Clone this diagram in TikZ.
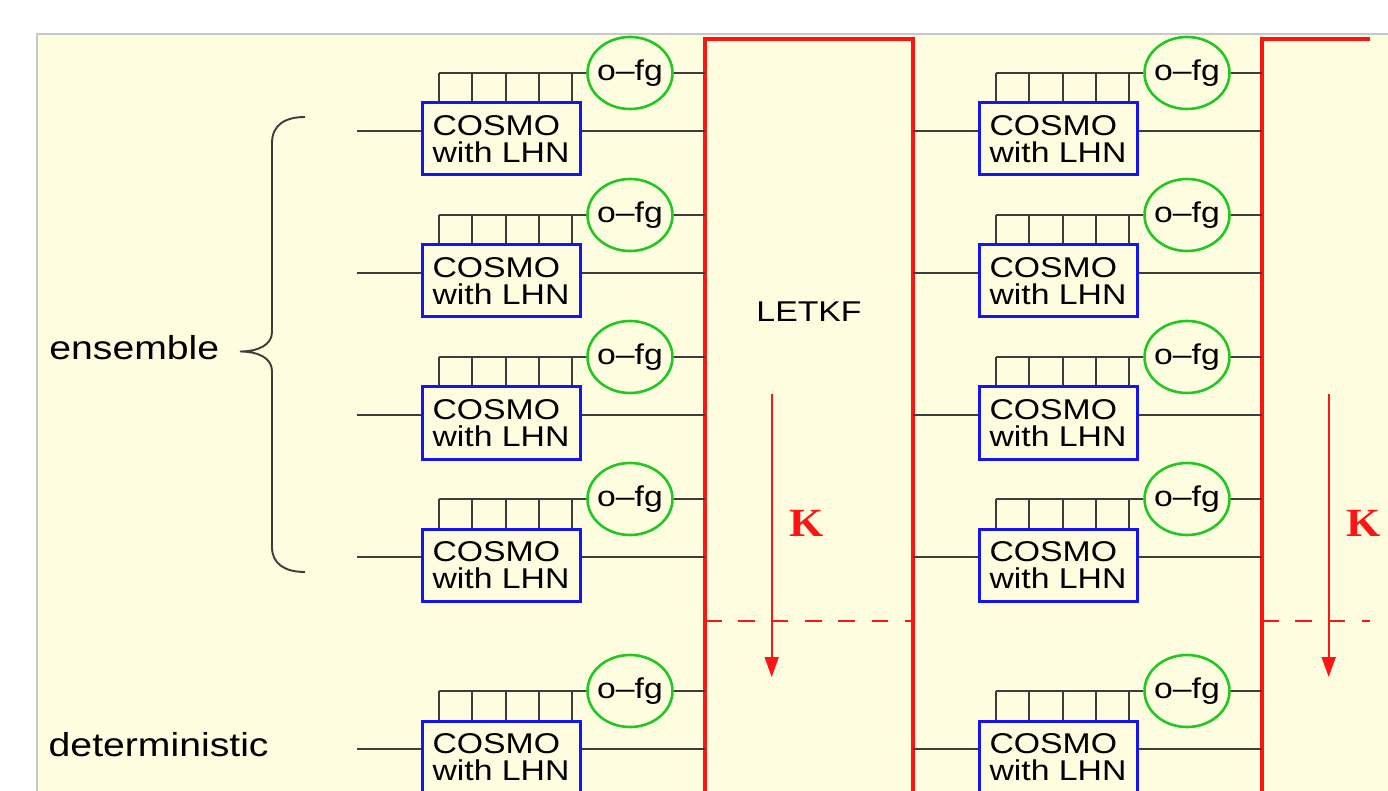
\documentclass[tikz,border=0pt]{standalone}
\usepackage{fontspec}
\setmainfont{Liberation Serif}
\newfontfamily\diagsans[FakeStretch=1.18]{Liberation Sans}
\newfontfamily\gainfont[FakeStretch=1.1]{Liberation Serif}
\usetikzlibrary{arrows.meta,shapes.geometric}
\definecolor{PanelFill}{HTML}{FEFDE0}
\definecolor{PanelEdge}{HTML}{C8C8C8}
\definecolor{FgGreen}{HTML}{22C822}
\definecolor{ModelBlue}{HTML}{1414F5}
\definecolor{KfRed}{HTML}{FF1414}
\definecolor{Wire}{HTML}{3C3C3C}

\begin{document}
\begin{tikzpicture}[x=0.5pt,y=-0.5pt,>={Triangle[length=10pt,width=7pt]},
    model/.style={draw=ModelBlue,line width=1.5pt,minimum width=79pt,minimum height=36pt,inner sep=0pt,align=left,font=\diagsans\fontsize{14.3}{13.6}\selectfont},
    fgnode/.style={draw=FgGreen,line width=1.3pt,ellipse,minimum width=42.5pt,minimum height=36pt,inner xsep=-1.5pt,inner ysep=0pt,font=\diagsans\fontsize{14.3}{15}\selectfont},
    wire/.style={draw=Wire,line width=0.95pt},
    kfline/.style={draw=KfRed,line width=1.6pt},
    sidetext/.style={inner sep=0pt,font=\diagsans\fontsize{16.6}{18}\selectfont}]
    \useasboundingbox (0,0) rectangle (1388,791);
    \clip (0,0) rectangle (1388,791);
    \draw[PanelEdge,fill=PanelFill,line width=0.8pt] (37,34) rectangle (1420,830);

    % LETKF blocks
    \draw[kfline] (705,830) -- (705,39) -- (913,39) -- (913,830);
    \draw[kfline] (1262,830) -- (1262,39) -- (1370,39);
    \draw[kfline,line width=0.9pt,dash pattern=on 8.33pt off 8.33pt] (705,621) -- (913,621);
    \draw[kfline,line width=0.9pt,dash pattern=on 8.33pt off 8.33pt] (1262,621) -- (1370,621);
    \node[font=\diagsans\fontsize{14.3}{15}\selectfont] (letkf) at (809,312) {LETKF};

    % model runs with first guess
    \foreach \c/\dx/\xin in {1/0/357,2/557/913}{
      \foreach \r/\yr in {1/73,2/215,3/357,4/499,5/691}{
        \node[model] (m\c\r) at (501+\dx,\yr+66) {COSMO\\with LHN};
        \node[fgnode] (f\c\r) at (630+\dx,\yr) {o–fg};
        \coordinate (in\c\r) at (\xin,\yr+58);
        \coordinate (out\c\r) at (705+\dx,\yr+58);
        \coordinate (obs\c\r) at (705+\dx,\yr);
        \draw[wire] (in\c\r) -- (in\c\r -| m\c\r.west);
        \draw[wire] (m\c\r.east |- out\c\r) -- (out\c\r);
        \draw[wire] (439+\dx,\yr) -- (f\c\r.west);
        \foreach \t in {0,...,4}
          \draw[wire] (439+\dx+33.3*\t,\yr) -- (439+\dx+33.3*\t,\yr |- m\c\r.north);
        \draw[wire] (f\c\r.east) -- (obs\c\r);
      }
      \coordinate (ktop\c) at (771.7+\dx,394);
      \coordinate (kbot\c) at (771.7+\dx,677);
      \draw[->,KfRed,line width=0.85pt] (ktop\c) -- (kbot\c);
      \node[font=\gainfont\bfseries\fontsize{20}{20}\selectfont,text=KfRed] (gain\c) at (806.5+\dx,523) {K};
    }

    % labels and brace
    \node[sidetext,anchor=base west] (ens) at (49,359.3) {ensemble};
    \node[sidetext,anchor=base west] (det) at (48.3,756.7) {deterministic};
    \coordinate (bracetip) at (240,351.5);
    \draw[wire] (305,117) .. controls (285,117) and (272,125) .. (272,143) -- (272,332)
      .. controls (272,345) and (258,351.5) .. (bracetip)
      .. controls (258,351.5) and (272,358) .. (272,371) -- (272,547)
      .. controls (272,564) and (285,572) .. (305,572);
  \end{tikzpicture}
\end{document}
